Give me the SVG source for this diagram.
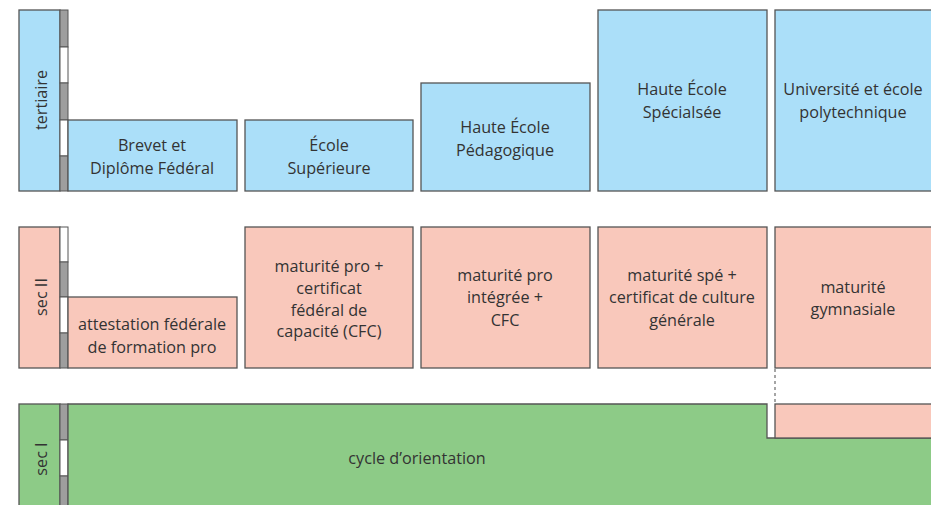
<svg xmlns="http://www.w3.org/2000/svg" width="931" height="505" viewBox="0 0 931 505">
<style>
.t{font-family:"Open Sans","Noto Sans",sans-serif;font-size:16.2px;fill:#333;text-anchor:middle}
.b{fill:#abdff9;stroke:#555;stroke-width:1.3}
.p{fill:#f9c8bb;stroke:#555;stroke-width:1.3}
.g{fill:#8dcb87;stroke:#555;stroke-width:1.3}
.sg{fill:#9e9e9e;stroke:#555;stroke-width:1}
.sw{fill:#fff;stroke:#555;stroke-width:1}
</style>
<rect width="931" height="505" fill="#fff"/>
<g id="tertiaire">
<rect class="b" x="19" y="10" width="41" height="181"/>
<text class="t" transform="translate(47,100) rotate(-90)">tertiaire</text>
<rect class="sg" x="60" y="10" width="8" height="37"/>
<rect class="sw" x="60" y="47" width="8" height="36"/>
<rect class="sg" x="60" y="83" width="8" height="37"/>
<rect class="sw" x="60" y="120" width="8" height="36"/>
<rect class="sg" x="60" y="156" width="8" height="35"/>
</g>
<g id="brevet">
<rect class="b" x="68" y="120" width="169" height="71"/>
<text class="t" x="152" y="151">Brevet et</text>
<text class="t" x="152" y="174">Diplôme Fédéral</text>
</g>
<g id="ecole-sup">
<rect class="b" x="245" y="120" width="168" height="71"/>
<text class="t" x="329" y="151">École</text>
<text class="t" x="329" y="174">Supérieure</text>
</g>
<g id="hep">
<rect class="b" x="421" y="83" width="169" height="108"/>
<text class="t" x="505" y="133">Haute École</text>
<text class="t" x="505" y="156">Pédagogique</text>
</g>
<g id="hes">
<rect class="b" x="598" y="10" width="169" height="181"/>
<text class="t" x="682" y="95">Haute École</text>
<text class="t" x="682" y="118">Spécialsée</text>
</g>
<g id="uni">
<rect class="b" x="775" y="10" width="162" height="181"/>
<text class="t" x="853" y="95">Université et école</text>
<text class="t" x="853" y="118">polytechnique</text>
</g>
<g id="secII">
<rect class="p" x="19" y="227" width="41" height="141"/>
<text class="t" transform="translate(47,297) rotate(-90)">sec II</text>
<rect class="sw" x="60" y="227" width="8" height="35"/>
<rect class="sg" x="60" y="262" width="8" height="35"/>
<rect class="sw" x="60" y="297" width="8" height="36"/>
<rect class="sg" x="60" y="333" width="8" height="35"/>
</g>
<g id="attestation">
<rect class="p" x="68" y="297" width="169" height="71"/>
<text class="t" x="152" y="330">attestation fédérale</text>
<text class="t" x="152" y="353">de formation pro</text>
</g>
<g id="matu-pro-cfc">
<rect class="p" x="245" y="227" width="168" height="141"/>
<text class="t" x="329" y="272">maturité pro +</text>
<text class="t" x="329" y="294">certificat</text>
<text class="t" x="329" y="316">fédéral de</text>
<text class="t" x="329" y="337">capacité (CFC)</text>
</g>
<g id="matu-pro-integree">
<rect class="p" x="421" y="227" width="169" height="141"/>
<text class="t" x="505" y="281">maturité pro</text>
<text class="t" x="505" y="303">intégrée +</text>
<text class="t" x="505" y="326">CFC</text>
</g>
<g id="matu-spe">
<rect class="p" x="598" y="227" width="169" height="141"/>
<text class="t" x="682" y="281">maturité spé +</text>
<text class="t" x="682" y="303">certificat de culture</text>
<text class="t" x="682" y="326">générale</text>
</g>
<g id="matu-gym">
<rect class="p" x="775" y="227" width="162" height="141"/>
<text class="t" x="853" y="293">maturité</text>
<text class="t" x="853" y="315">gymnasiale</text>
</g>
<g id="secI">
<rect class="g" x="19" y="404" width="41" height="110"/>
<text class="t" transform="translate(47,459) rotate(-90)">sec I</text>
<rect class="sg" x="60" y="404" width="8" height="36"/>
<rect class="sw" x="60" y="440" width="8" height="36"/>
<rect class="sg" x="60" y="476" width="8" height="38"/>
</g>
<g id="cycle">
<path class="g" d="M68 404 H767 V438 H940 V514 H68 Z"/>
<text class="t" x="417" y="464">cycle d’orientation</text>
</g>
<g id="gym-start">
<rect class="p" x="775" y="404" width="162" height="34"/>
</g>
<g id="connectors">
<line x1="775" y1="369" x2="775" y2="403" stroke="#888" stroke-width="1.5" stroke-dasharray="3,3"/>
</g>
</svg>
